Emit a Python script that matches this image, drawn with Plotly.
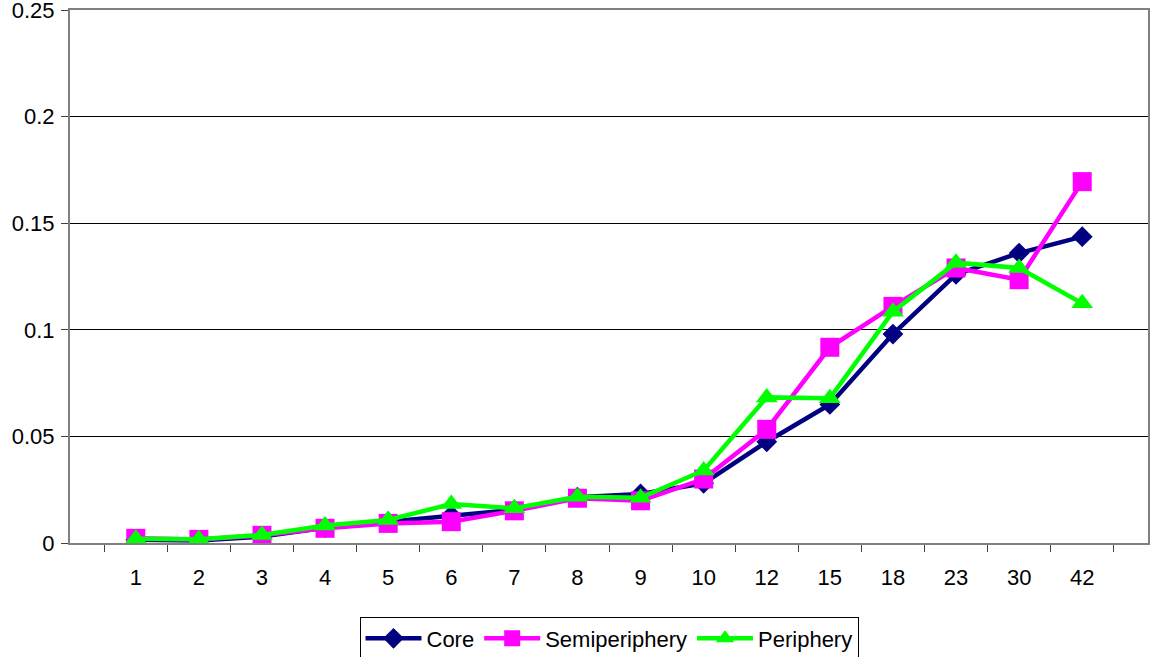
import plotly.graph_objects as go

categories = ["1", "2", "3", "4", "5", "6", "7", "8", "9", "10", "12", "15", "18", "23", "30", "42"]
core = [0.0015, 0.0012, 0.0030, 0.0072, 0.0100, 0.0130, 0.0155, 0.0215, 0.0230, 0.0280, 0.0475, 0.0650, 0.0980, 0.1260, 0.1360, 0.1437]
semiperiphery = [0.0022, 0.0017, 0.0036, 0.0069, 0.0092, 0.0100, 0.0151, 0.0210, 0.0198, 0.0300, 0.0533, 0.0918, 0.1110, 0.1290, 0.1235, 0.1695]
periphery = [0.0020, 0.0018, 0.0038, 0.0082, 0.0108, 0.0183, 0.0163, 0.0217, 0.0212, 0.0340, 0.0683, 0.0679, 0.1085, 0.1315, 0.1290, 0.1124]
y_ticks = [0, 0.05, 0.1, 0.15, 0.2, 0.25]
y_tick_labels = ["0", "0.05", "0.1", "0.15", "0.2", "0.25"]

fig = go.Figure()
fig.add_trace(go.Scatter(x=categories, y=core, name="Core", mode="lines+markers",
                         line=dict(color="#000080", width=4.5),
                         marker=dict(symbol="diamond", size=16, color="#000080")))
fig.add_trace(go.Scatter(x=categories, y=semiperiphery, name="Semiperiphery", mode="lines+markers",
                         line=dict(color="#FF00FF", width=4.5),
                         marker=dict(symbol="square", size=19, color="#FF00FF")))
fig.add_trace(go.Scatter(x=categories, y=periphery, name="Periphery", mode="lines+markers",
                         line=dict(color="#00FF00", width=4.5),
                         marker=dict(symbol="triangle-up", size=19, color="#00FF00")))

fig.update_layout(
    width=1150, height=657,
    margin=dict(l=70, r=2, t=10, b=114, autoexpand=False),
    paper_bgcolor="white", plot_bgcolor="white",
    font=dict(family="Liberation Sans, Arial, sans-serif", size=22, color="black"),
    legend=dict(orientation="h", x=0.5, xanchor="center", y=-0.138, yanchor="top",
                bordercolor="black", borderwidth=1, font=dict(size=22),
                tracegroupgap=0, itemwidth=56),
    showlegend=True,
)
fig.update_xaxes(type="category", tickson="boundaries", ticks="outside", ticklen=7,
                 tickcolor="#404040", showline=True, linecolor="#808080", linewidth=2,
                 mirror=True, showgrid=False, automargin=False,
                 tickfont=dict(size=22), ticklabelstandoff=14)
fig.update_yaxes(range=[0, 0.25], tickvals=y_ticks, ticktext=y_tick_labels,
                 ticks="outside", ticklen=7, tickcolor="#404040",
                 showline=True, linecolor="#808080", linewidth=2, mirror=True,
                 showgrid=True, gridcolor="black", gridwidth=1, zeroline=False,
                 automargin=False, tickfont=dict(size=22), ticklabeloverflow="allow",
                 ticklabelstandoff=2)

fig.write_html("out.html", config={"displayModeBar": False},
               post_script="document.body.style.margin='0';")
